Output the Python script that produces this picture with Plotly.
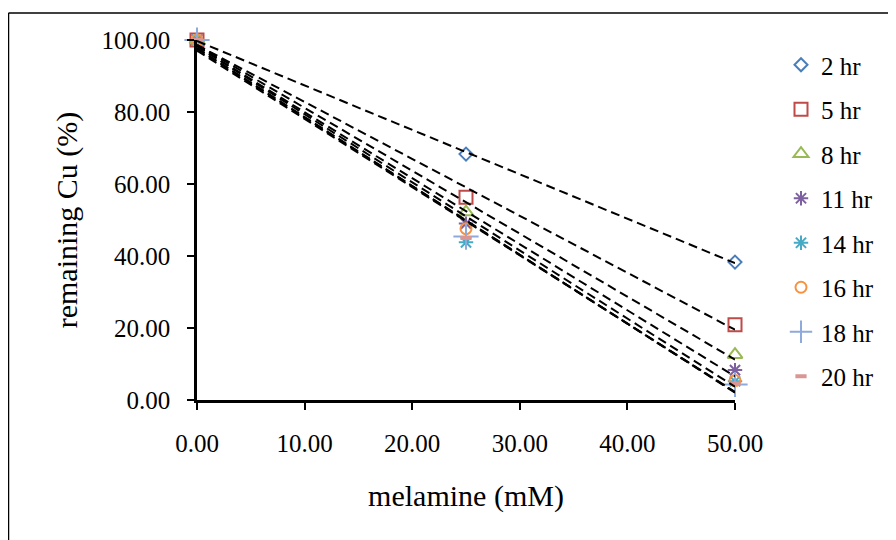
import numpy as np
import plotly.graph_objects as go

melamine = [0, 25, 50]
series_names = ["2 hr", "5 hr", "8 hr", "11 hr", "14 hr", "16 hr", "18 hr", "20 hr"]
cu_2hr = [100.0, 68.3, 38.3]
cu_5hr = [100.0, 56.3, 20.9]
cu_8hr = [100.0, 52.2, 12.6]
cu_11hr = [100.0, 49.0, 8.3]
cu_14hr = [100.0, 43.8, 5.2]
cu_16hr = [100.0, 47.6, 5.4]
cu_18hr = [100.0, 45.4, 4.3]
cu_20hr = [100.0, 45.0, 4.6]
x_ticks = [0, 10, 20, 30, 40, 50]
y_ticks = [0, 20, 40, 60, 80, 100]

all_series = [cu_2hr, cu_5hr, cu_8hr, cu_11hr, cu_14hr, cu_16hr, cu_18hr, cu_20hr]
colors = ["#4A7EBB", "#BE4B48", "#98B954", "#7D60A0", "#46AAC5", "#F69240", "#8EA9DB", "#D99694"]
symbols = ["diamond-open", "square-open", "triangle-up-open", "asterisk-open",
           "asterisk-open", "circle-open", "cross-thin-open", "line-ew-open"]
sizes = [10, 13, 13, 12, 12, 11, 18, 8]
widths = [2, 2, 2, 2, 2, 2, 2, 4]

FONT = "Liberation Serif, Times New Roman, serif"
# the page body adds an 8px offset; the figure covers screen px 8..896 / 8..540
OFF = 8
W, H = 896 - OFF, 540 - OFF
L = 197 - OFF
T = 40 - OFF
R = W - (735 - OFF)
B = H - (400 - OFF)

fig = go.Figure()
for i, (name, ys) in enumerate(zip(series_names, all_series)):
    fig.add_trace(go.Scatter(
        x=melamine, y=ys, mode="markers", name=name,
        legendgroup=name, cliponaxis=False,
        marker=dict(symbol=symbols[i], size=sizes[i], color=colors[i],
                    line=dict(color=colors[i], width=widths[i])),
    ))

for name, ys in zip(series_names, all_series):
    slope, intercept = np.polyfit(melamine, ys, 1)
    xs = [melamine[0], melamine[-1]]
    fig.add_trace(go.Scatter(
        x=xs, y=[intercept + slope * v for v in xs], mode="lines",
        line=dict(color="black", width=2, dash="9px,5px"),
        showlegend=False, hoverinfo="skip", cliponaxis=False,
    ))

pw = W - L - R
ph = H - T - B
def px_x(p):
    return (p - OFF - L) / pw
def px_y(p):
    return (H - B - (p - OFF)) / ph

# outer chart border (top and left visible)
fig.add_shape(type="line", xref="paper", yref="paper",
              x0=px_x(8.5), x1=px_x(900), y0=px_y(13), y1=px_y(13),
              line=dict(color="black", width=1.5))
fig.add_shape(type="line", xref="paper", yref="paper",
              x0=px_x(8.5), x1=px_x(8.5), y0=px_y(13), y1=px_y(545),
              line=dict(color="black", width=1.5))

fig.update_layout(
    width=W, height=H,
    margin=dict(l=L, r=R, t=T, b=B),
    paper_bgcolor="white", plot_bgcolor="white",
    font=dict(family=FONT, size=25, color="black"),
    showlegend=True,
    legend=dict(x=px_x(781), y=px_y(42), xanchor="left", yanchor="top",
                font=dict(family=FONT, size=25, color="black"),
                tracegroupgap=9, itemwidth=30, bgcolor="rgba(0,0,0,0)",
                maxheight=480),
    xaxis=dict(range=[0, 50], tickvals=x_ticks, tickformat=".2f",
               showgrid=False, zeroline=False, showline=True,
               linecolor="black", linewidth=2.5,
               ticks="outside", ticklen=7, tickwidth=2, tickcolor="black",
               ticklabelstandoff=12,
               tickfont=dict(family=FONT, size=25),
               title=dict(text="melamine (mM)", font=dict(family=FONT, size=30), standoff=30)),
    yaxis=dict(range=[0, 100], tickvals=y_ticks, tickformat=".2f",
               showgrid=False, zeroline=False, showline=True,
               linecolor="black", linewidth=2.5,
               ticks="outside", ticklen=7, tickwidth=2, tickcolor="black",
               ticklabelstandoff=12,
               tickfont=dict(family=FONT, size=25),
               title=dict(text="remaining Cu (%)", font=dict(family=FONT, size=30), standoff=16)),
)

fig.write_html("out.html")
